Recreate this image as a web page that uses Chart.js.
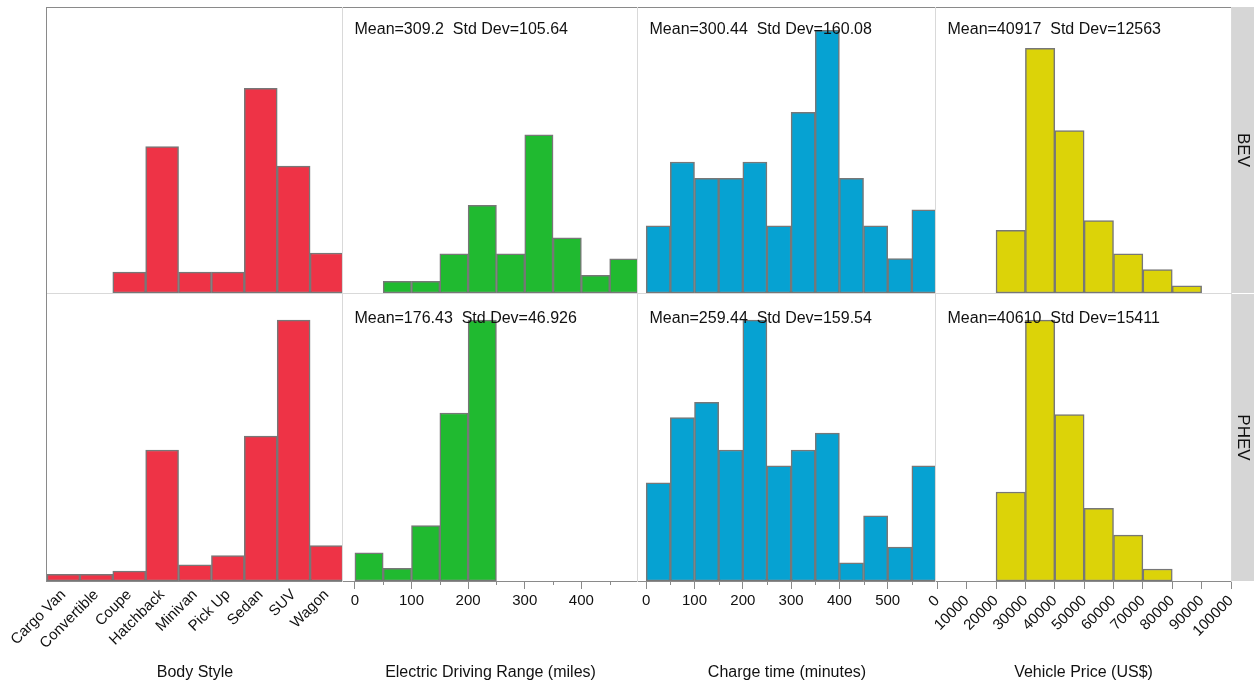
<!DOCTYPE html>
<html>
<head>
<meta charset="utf-8">
<title>Electric vehicles by powertrain</title>
<script src="https://cdn.jsdelivr.net/npm/chart.js@4/dist/chart.umd.min.js"></script>
<style>
  html, body { margin: 0; padding: 0; background: #ffffff; }
  #wrap { position: relative; width: 1254px; height: 693px; overflow: hidden; background: #ffffff; }
  #wrap canvas { position: absolute; left: 0; top: 0; }
</style>
</head>
<body>
<div id="wrap"></div>
<script>
// ---- Data (relative frequency, 100 = tallest bar of each column) ----
const GROUPS = ['BEV', 'PHEV'];

const BODY_STYLES = ['Cargo Van', 'Convertible', 'Coupe', 'Hatchback', 'Minivan', 'Pick Up', 'Sedan', 'SUV', 'Wagon'];
const BODY_BEV  = [0, 0, 8.0, 56.3, 8.0, 8.0, 78.7, 48.8, 15.4];
const BODY_PHEV = [2.6, 2.6, 3.8, 50.2, 6.2, 9.7, 55.5, 100, 13.6];

// Electric driving range, 50-mile bins (bin start values)
const RANGE_BIN_STARTS = [0, 50, 100, 150, 200, 250, 300, 350, 400, 450, 500];
const RANGE_BEV  = [0, 4.5, 4.5, 15.1, 33.7, 15.1, 60.8, 21.2, 6.8, 13.1, 19.7];
const RANGE_PHEV = [10.8, 4.9, 21.2, 64.4, 100, 0, 0, 0, 0, 0, 0];
const RANGE_TICKS = [0, 50, 100, 150, 200, 250, 300, 350, 400, 450];
const RANGE_LABELED = [0, 100, 200, 300, 400];

// Charge time, 50-minute bins
const CHARGE_BIN_STARTS = [0, 50, 100, 150, 200, 250, 300, 350, 400, 450, 500, 550];
const CHARGE_BEV  = [25.8, 50.4, 44.1, 44.1, 50.4, 25.8, 69.5, 101.0, 44.1, 25.8, 13.2, 32.0];
const CHARGE_PHEV = [37.6, 62.6, 68.5, 50.2, 100, 44.1, 50.2, 56.7, 7.0, 25.0, 13.0, 44.1];
const CHARGE_TICKS = [0, 50, 100, 150, 200, 250, 300, 350, 400, 450, 500, 550];
const CHARGE_LABELED = [0, 100, 200, 300, 400, 500];

// Vehicle price, 10000 US$ bins
const PRICE_BIN_STARTS = [0, 10000, 20000, 30000, 40000, 50000, 60000, 70000, 80000, 90000];
const PRICE_BEV  = [0, 0, 24.1, 94.1, 62.5, 27.9, 15.1, 9.0, 2.8, 0];
const PRICE_PHEV = [0, 0, 34.1, 100, 63.8, 27.9, 17.6, 4.6, 0, 0];
const PRICE_TICKS = [0, 10000, 20000, 30000, 40000, 50000, 60000, 70000, 80000, 90000, 100000];
const PRICE_LABELED = PRICE_TICKS;

const STATS_BEV  = [null, 'Mean=309.2  Std Dev=105.64', 'Mean=300.44  Std Dev=160.08', 'Mean=40917  Std Dev=12563'];
const STATS_PHEV = [null, 'Mean=176.43  Std Dev=46.926', 'Mean=259.44  Std Dev=159.54', 'Mean=40610  Std Dev=15411'];
const AXIS_TITLES = ['Body Style', 'Electric Driving Range (miles)', 'Charge time (minutes)', 'Vehicle Price (US$)'];

// ---- Layout and style ----
const W = 1254, H = 693;
const COL_EDGES = [47, 343, 638, 936, 1231];
const ROW_TOP = [7, 294];
const ROW_BOTTOM = [293, 581];
const Y_MAX = 110;
const FONT = "'Liberation Sans', Arial, Helvetica, sans-serif";
const FILLS = ['#EE3346', '#20BA30', '#06A2D2', '#DCD308'];
const BAR_EDGE = '#777777';
const DARK_LINE = '#8a8a8a';
const LIGHT_LINE = '#d9d9d9';
const STRIP_FILL = '#d6d6d6';

const COLUMNS = [
  { type: 'category', labels: BODY_STYLES, series: [BODY_BEV, BODY_PHEV] },
  { type: 'linear', starts: RANGE_BIN_STARTS, series: [RANGE_BEV, RANGE_PHEV],
    min: -21, max: 500, ticks: RANGE_TICKS, labeled: RANGE_LABELED, rotate: false },
  { type: 'linear', starts: CHARGE_BIN_STARTS, series: [CHARGE_BEV, CHARGE_PHEV],
    min: -17, max: 600, ticks: CHARGE_TICKS, labeled: CHARGE_LABELED, rotate: false },
  { type: 'linear', starts: PRICE_BIN_STARTS, series: [PRICE_BEV, PRICE_PHEV],
    min: -440, max: 100000, ticks: PRICE_TICKS, labeled: PRICE_LABELED, rotate: true }
];
const STATS = [STATS_BEV, STATS_PHEV];

// ---- Plugins ----
// Panel outlines (outer frame dark, separators light)
const panelFrame = {
  id: 'panelFrame',
  beforeDatasetsDraw(chart, args, opts) {
    const { ctx, chartArea: a } = chart;
    ctx.save();
    (opts.lines || []).forEach(l => {
      ctx.strokeStyle = l.color;
      ctx.lineWidth = 1;
      ctx.beginPath();
      if (l.edge === 'top') {
        ctx.moveTo(a.left - 1, a.top + 0.5); ctx.lineTo(a.right + 1, a.top + 0.5);
      } else if (l.edge === 'bottom') {
        ctx.moveTo(a.left, a.bottom + 0.5); ctx.lineTo(a.right + 1, a.bottom + 0.5);
      } else if (l.edge === 'left') {
        ctx.moveTo(a.left - 0.5, a.top); ctx.lineTo(a.left - 0.5, a.bottom + 1);
      } else if (l.edge === 'right') {
        ctx.moveTo(a.right + 0.5, a.top); ctx.lineTo(a.right + 0.5, a.bottom + 1);
      }
      ctx.stroke();
    });
    ctx.restore();
  }
};

// Mean / standard deviation note in the panel corner
const statNote = {
  id: 'statNote',
  afterDatasetsDraw(chart, args, opts) {
    if (!opts.text) return;
    const { ctx, chartArea: a } = chart;
    ctx.save();
    ctx.font = '16px ' + FONT;
    ctx.fillStyle = '#111111';
    ctx.textAlign = 'left';
    ctx.textBaseline = 'alphabetic';
    ctx.fillText(opts.text, a.left + 11.5, a.top + opts.dy);
    ctx.restore();
  }
};

// Short unlabeled ticks between the labeled ones
const minorTicks = {
  id: 'minorTicks',
  afterDraw(chart, args, opts) {
    if (!opts.values || !opts.values.length) return;
    const { ctx } = chart;
    const xs = chart.scales.x;
    ctx.save();
    ctx.strokeStyle = DARK_LINE;
    ctx.lineWidth = 1;
    opts.values.forEach(v => {
      const px = Math.round(xs.getPixelForValue(v)) + 0.5;
      ctx.beginPath();
      ctx.moveTo(px, xs.top);
      ctx.lineTo(px, xs.top + 4);
      ctx.stroke();
    });
    ctx.restore();
  }
};

// Group strip on the right side of each row
const groupStrip = {
  id: 'groupStrip',
  afterDraw(chart, args, opts) {
    if (!opts.text) return;
    const { ctx, chartArea: a } = chart;
    const x0 = a.right + 1;
    ctx.save();
    ctx.fillStyle = STRIP_FILL;
    ctx.fillRect(x0, a.top, W - x0, a.bottom - a.top);
    ctx.translate(x0 + (W - x0) / 2, (a.top + a.bottom) / 2);
    ctx.rotate(Math.PI / 2);
    ctx.font = '17px ' + FONT;
    ctx.fillStyle = '#111111';
    ctx.textAlign = 'center';
    ctx.textBaseline = 'middle';
    ctx.fillText(opts.text, 0, 0);
    ctx.restore();
  }
};

// ---- Build the 2 x 4 grid of histograms ----
const wrap = document.getElementById('wrap');

function makePanel(col, row) {
  const canvas = document.createElement('canvas');
  canvas.width = W; canvas.height = H;
  canvas.style.width = W + 'px'; canvas.style.height = H + 'px';
  wrap.appendChild(canvas);

  const spec = COLUMNS[col];
  const values = spec.series[row];
  const isBottom = row === 1;

  let data, xScale;
  const tickFont = { family: FONT, size: 15 };

  if (spec.type === 'category') {
    data = { labels: spec.labels, datasets: [{ data: values }] };
    xScale = {
      type: 'category',
      display: isBottom,
      offset: true,
      grid: { display: false, drawTicks: false, offset: true },
      border: { display: true, color: DARK_LINE, width: 1 },
      ticks: { autoSkip: false, minRotation: 45, maxRotation: 45, padding: 5, color: '#111111', font: tickFont }
    };
  } else {
    const binW = spec.starts[1] - spec.starts[0];
    data = { datasets: [{ data: spec.starts.map((s, i) => ({ x: s + binW / 2, y: values[i] })) }] };
    xScale = {
      type: 'linear',
      display: isBottom,
      min: spec.min,
      max: spec.max,
      offset: false,
      afterBuildTicks: s => { s.ticks = spec.ticks.map(v => ({ value: v })); },
      grid: {
        display: true, drawOnChartArea: false, drawTicks: true, tickLength: 8, offset: false,
        tickColor: c => (c.tick && spec.labeled.includes(c.tick.value)) ? DARK_LINE : 'rgba(0,0,0,0)'
      },
      border: { display: true, color: DARK_LINE, width: 1 },
      ticks: {
        autoSkip: false,
        minRotation: spec.rotate ? 45 : 0,
        maxRotation: spec.rotate ? 45 : 0,
        padding: spec.rotate ? 3 : 3,
        color: '#111111',
        font: tickFont,
        callback: v => spec.labeled.includes(v) ? String(v) : ''
      }
    };
  }

  if (isBottom) {
    xScale.title = {
      display: true, text: AXIS_TITLES[col], color: '#111111',
      font: { family: FONT, size: 16 }, padding: { top: 0, bottom: 11 }
    };
    xScale.afterFit = s => { s.height = H - ROW_BOTTOM[1]; s.paddingLeft = 0; s.paddingRight = 0; };
  }

  Object.assign(data.datasets[0], {
    backgroundColor: FILLS[col],
    borderColor: BAR_EDGE,
    borderWidth: 1.5,
    borderSkipped: false,
    barPercentage: 1,
    categoryPercentage: 1,
    clip: 0
  });

  const lines = [];
  if (row === 0) {
    lines.push({ edge: 'top', color: DARK_LINE });
    lines.push({ edge: 'bottom', color: LIGHT_LINE });
  }
  lines.push({ edge: 'left', color: col === 0 ? DARK_LINE : LIGHT_LINE });
  if (col === 3) lines.push({ edge: 'right', color: LIGHT_LINE });

  const minor = (isBottom && spec.type === 'linear')
    ? spec.ticks.filter(v => !spec.labeled.includes(v)) : [];

  return new Chart(canvas.getContext('2d'), {
    type: 'bar',
    data,
    options: {
      responsive: false,
      devicePixelRatio: 1,
      animation: false,
      events: [],
      layout: {
        padding: {
          left: COL_EDGES[col],
          right: W - COL_EDGES[col + 1],
          top: ROW_TOP[row],
          bottom: row === 0 ? H - ROW_BOTTOM[0] : 0
        }
      },
      scales: {
        x: xScale,
        y: { display: false, min: 0, max: Y_MAX }
      },
      plugins: {
        legend: { display: false },
        tooltip: { enabled: false },
        panelFrame: { lines },
        statNote: { text: STATS[row][col], dy: row === 0 ? 26.5 : 28.5 },
        minorTicks: { values: minor },
        groupStrip: { text: col === 3 ? GROUPS[row] : null }
      }
    },
    plugins: [panelFrame, statNote, minorTicks, groupStrip]
  });
}

for (let row = 0; row < 2; row++) {
  for (let col = 0; col < 4; col++) {
    makePanel(col, row);
  }
}
</script>
</body>
</html>
